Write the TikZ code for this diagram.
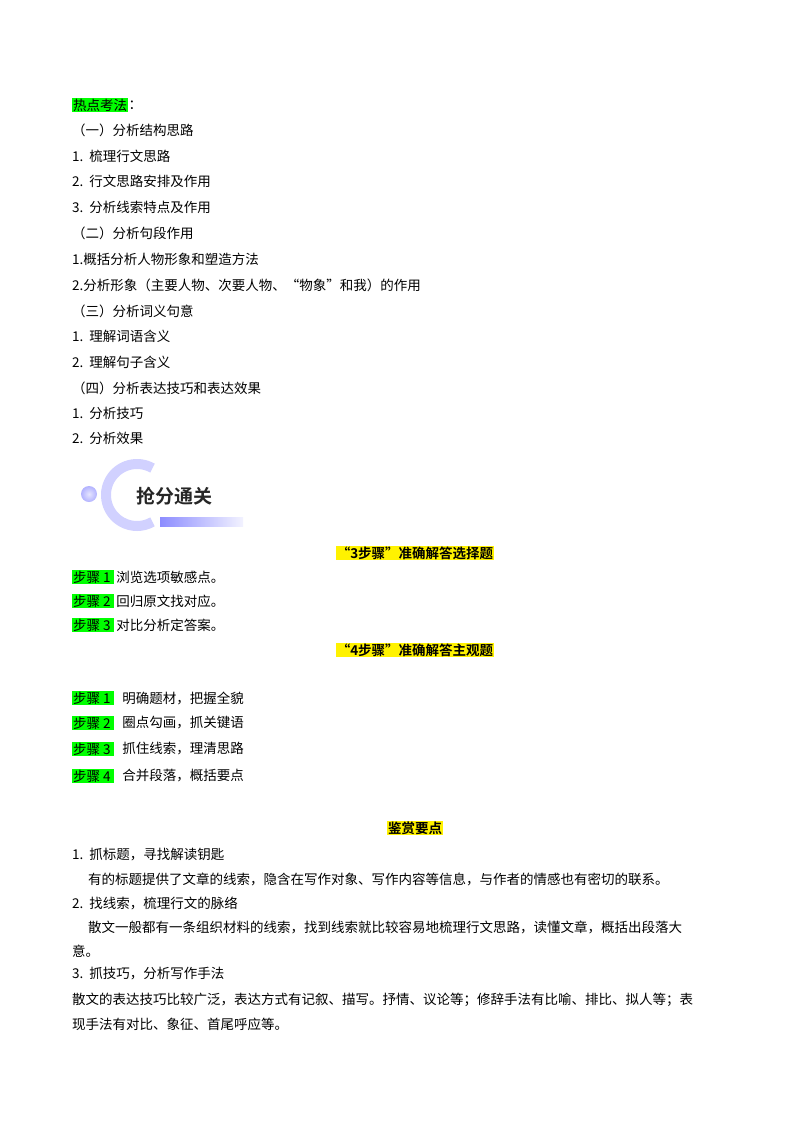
\documentclass[tikz,border=0pt]{standalone}
\usepackage{fontspec}
\setmainfont{Liberation Serif}
\newfontfamily\cjk{Noto Sans CJK SC}
\newfontfamily\cjkb{Noto Sans CJK SC Bold}
\begin{document}
\begin{tikzpicture}[x=1pt,y=-1pt,
 t/.style={anchor=west,inner sep=0pt,font=\cjk\fontsize{13.5}{14}\selectfont},
 hd/.style={anchor=center,inner sep=1pt,fill=yellow,font=\cjkb\fontsize{13.5}{14}\selectfont},
 gr/.style={anchor=west,inner sep=1pt,fill=green,font=\cjk\fontsize{13.5}{14}\selectfont}]
\useasboundingbox (0,0) rectangle (800,1132);
\node[gr] (h) at (72,105) {热点考法};
\node[t] at (h.east) {：};
\node[t] (a1) at (72,130) {（一）分析结构思路};
\node[t] at (72,156) {1.\ \ 梳理行文思路};
\node[t] at (72,181) {2.\ \ 行文思路安排及作用};
\node[t] at (72,207) {3.\ \ 分析线索特点及作用};
\node[t] at (72,233) {（二）分析句段作用};
\node[t] at (72,259) {1.概括分析人物形象和塑造方法};
\node[t] at (72,285) {2.分析形象（主要人物、次要人物、“物象”和我）的作用};
\node[t] at (72,311) {（三）分析词义句意};
\node[t] at (72,336) {1.\ \ 理解词语含义};
\node[t] at (72,362) {2.\ \ 理解句子含义};
\node[t] at (72,388) {（四）分析表达技巧和表达效果};
\node[t] at (72,413) {1.\ \ 分析技巧};
\node[t] at (72,438) {2.\ \ 分析效果};
% logo
\shade[inner color=blue!10,outer color=blue!30] (89,494) circle (8);
\draw[line width=10pt,color=blue!18] (137,495) ++(-60:31) arc (-60:-300:31);
\shade[left color=blue!45,right color=blue!5] (160,517) rectangle (243,526);
\node[inner sep=0pt,font=\cjkb\fontsize{19}{20}\selectfont,text=black!85] (logo) at (174,496) {抢分通关};
% 3 steps
\node[hd] (s3) at (415,553) {“3步骤”准确解答选择题};
\node[gr] (b1) at (72,577) {步骤 1\,}; \node[t] at ([xshift=2pt]b1.east) {浏览选项敏感点。};
\node[gr] (b2) at (72,601) {步骤 2\,}; \node[t] at ([xshift=2pt]b2.east) {回归原文找对应。};
\node[gr] (b3) at (72,625) {步骤 3\,}; \node[t] at ([xshift=2pt]b3.east) {对比分析定答案。};
\node[hd] (s4) at (415,650) {“4步骤”准确解答主观题};
\node[gr] (c1) at (72,698) {步骤 1\,}; \node[t] at ([xshift=8pt]c1.east) {明确题材，把握全貌};
\node[gr] (c2) at (72,723) {步骤 2\,}; \node[t] at ([xshift=8pt]c2.east) {圈点勾画，抓关键语};
\node[gr] (c3) at (72,749) {步骤 3\,}; \node[t] at ([xshift=8pt]c3.east) {抓住线索，理清思路};
\node[gr] (c4) at (72,776) {步骤 4\,}; \node[t] at ([xshift=8pt]c4.east) {合并段落，概括要点};
\node[hd] (jx) at (415,828) {鉴赏要点};
\node[t] at (72,855) {1.\ \ 抓标题，寻找解读钥匙};
\node[t] at (88,879) {有的标题提供了文章的线索，隐含在写作对象、写作内容等信息，与作者的情感也有密切的联系。};
\node[t] at (72,903) {2.\ \ 找线索，梳理行文的脉络};
\node[t,text width=640pt,align=justify] at (88,927) {散文一般都有一条组织材料的线索，找到线索就比较容易地梳理行文思路，读懂文章，概括出段落大};
\node[t] at (72,951) {意。};
\node[t] at (72,974) {3.\ \ 抓技巧，分析写作手法};
\node[t,text width=656pt,align=justify] at (72,1000) {散文的表达技巧比较广泛，表达方式有记叙、描写。抒情、议论等；修辞手法有比喻、排比、拟人等；表};
\node[t] at (72,1024) {现手法有对比、象征、首尾呼应等。};
\end{tikzpicture}
\end{document}
